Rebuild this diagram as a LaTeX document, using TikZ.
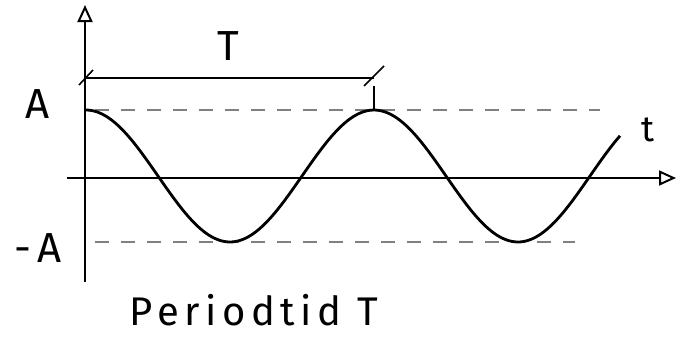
\documentclass[tikz,border=0pt]{standalone}
\usepackage{fontspec}
\setmainfont{Fira Sans}
\usetikzlibrary{arrows.meta}
\tikzset{
  axisline/.style={line width=1.6pt, -{Triangle[open, length=17pt, width=15pt, line width=2pt]}},
  levelline/.style={line width=1.2pt, gray, dash pattern=on 14pt off 12pt},
  waveline/.style={line width=2.8pt},
  brackline/.style={line width=1.6pt},
  biglabel/.style={font=\fontsize{42}{42}\selectfont, inner sep=0pt},
  captext/.style={font=\fontsize{40}{40}\selectfont\addfontfeature{LetterSpace=14}, inner sep=0pt}
}
\begin{document}
\begin{tikzpicture}[x=1pt, y=-1pt]
  \useasboundingbox (0,0) rectangle (684,340);
  % axes
  \coordinate (ybot) at (85,282);
  \coordinate (ytop) at (85,5);
  \coordinate (xleft) at (67,178);
  \coordinate (xright) at (676,178);
  \draw[axisline] (ybot) -- (ytop);
  \draw[axisline] (xleft) -- (xright);

  % amplitude levels
  \coordinate (atop0) at (95,110);
  \coordinate (atop1) at (600,110);
  \coordinate (abot0) at (95,242);
  \coordinate (abot1) at (575,242);
  \draw[levelline] (atop0) -- (atop1);
  \draw[levelline] (abot0) -- (abot1);

  % the wave
  \draw[waveline] plot[domain=86:620, samples=140, smooth]
    (\x, {176-66*cos(1.25*(\x-86))});

  % period bracket
  \coordinate (pleft) at (85,78);
  \coordinate (pright) at (374,78);
  \coordinate (peak) at (374,110);
  \draw[brackline] (pleft) -- (pright);
  \draw[brackline] ([shift={(-6,7)}]pleft) -- ([shift={(8,-8)}]pleft);
  \draw[brackline] ([shift={(-10,8)}]pright) -- ([shift={(10,-12)}]pright);
  \draw[brackline] ([yshift=-8]pright) -- (peak);

  % labels
  \node[biglabel] (lblA) at (38,104) {A};
  \node[biglabel] (lblmA) at (38,248) {-\,A};
  \node[biglabel, font=\fontsize{36}{36}\selectfont] (lblt) at (648,130) {t};
  \node[biglabel] (lblT) at (228,46) {T};
  \node[captext] (caption) at (254,310) {Periodtid T};
\end{tikzpicture}
\end{document}
